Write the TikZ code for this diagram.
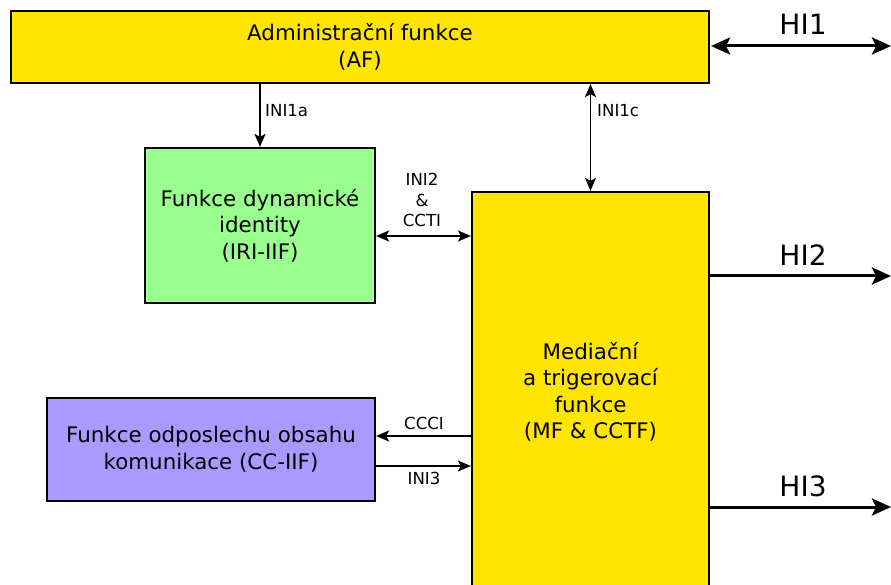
\documentclass[tikz,border=0pt]{standalone}
\usepackage{fontspec}
\setmainfont{DejaVu Sans}
\usetikzlibrary{arrows.meta}
\definecolor{funcyellow}{RGB}{255,229,0}
\definecolor{funcgreen}{RGB}{153,255,143}
\definecolor{funcviolet}{RGB}{170,153,255}

\tikzset{
	funcbox/.style={draw=black, line width=2.2pt, align=center, inner sep=0pt,
		font=\fontsize{21.4}{26.5}\selectfont},
	ilink/.style={line width=1.8pt, -{Stealth[length=13pt,width=11pt,inset=3pt]}},
	ilinkboth/.style={line width=1.8pt, {Stealth[length=13pt,width=11pt,inset=3pt]}-{Stealth[length=13pt,width=11pt,inset=3pt]}},
	hlink/.style={line width=3pt, -{Stealth[length=19pt,width=17pt,inset=4pt]}},
	hlinkboth/.style={line width=3pt, {Stealth[length=19pt,width=17pt,inset=4pt]}-{Stealth[length=19pt,width=17pt,inset=4pt]}},
	ilabel/.style={font=\fontsize{16.6}{20.5}\selectfont, align=center, inner sep=0pt},
	hlabel/.style={font=\fontsize{28}{32}\selectfont, inner sep=0pt}
}

\begin{document}
\begin{tikzpicture}[x=1pt, y=-1pt]
	\clip (0,0) rectangle (891,585);
	% function blocks
	\node[funcbox, fill=funcyellow, minimum width=698pt, minimum height=72pt] (af) at (360,47) {Administrační funkce\\(AF)};
	\node[funcbox, fill=funcgreen, minimum width=230pt, minimum height=155pt] (iri) at (260,225.5) {Funkce dynamické\\identity\\(IRI-IIF)};
	\node[funcbox, fill=funcviolet, minimum width=328pt, minimum height=103pt] (cc) at (211,449.5) {Funkce odposlechu obsahu\\komunikace (CC-IIF)};
	\node[funcbox, fill=funcyellow, minimum width=237pt, minimum height=400pt] (mf) at (590.5,392) {Mediační\\a trigerovací\\funkce\\(MF \& CCTF)};
	% free ends of the handover interfaces
	\coordinate (hi1end) at (891,46);
	\coordinate (hi2end) at (891,276);
	\coordinate (hi3end) at (891,507);
	% internal interfaces
	\draw[ilink] (iri.north |- af.south) -- (iri.north);
	\draw[ilinkboth] (mf.north |- af.south) -- (mf.north);
	\draw[ilinkboth] ([yshift=-10.5pt]iri.east) -- ([yshift=-10.5pt]iri.east -| mf.west);
	\draw[ilink] ([yshift=13.5pt]cc.east -| mf.west) -- ([yshift=13.5pt]cc.east);
	\draw[ilink] ([yshift=-16.5pt]cc.east) -- ([yshift=-16.5pt]cc.east -| mf.west);
	\node[ilabel, anchor=west] (ini1a) at (265,111) {INI1a};
	\node[ilabel, anchor=west] (ini1c) at (597,111) {INI1c};
	\node[ilabel] (ini2) at (422,200) {INI2\\\&\\CCTI};
	\node[ilabel] (ccci) at (424,423) {CCCI};
	\node[ilabel] (ini3) at (424,478) {INI3};
	% handover interfaces
	\draw[hlinkboth] ([xshift=1pt]af.east |- hi1end) -- (hi1end);
	\draw[hlink] (mf.east |- hi2end) -- (hi2end);
	\draw[hlink] (mf.east |- hi3end) -- (hi3end);
	\node[hlabel] (hi1) at (803,24) {HI1};
	\node[hlabel] (hi2) at (803,255) {HI2};
	\node[hlabel] (hi3) at (803,486) {HI3};
\end{tikzpicture}
\end{document}
